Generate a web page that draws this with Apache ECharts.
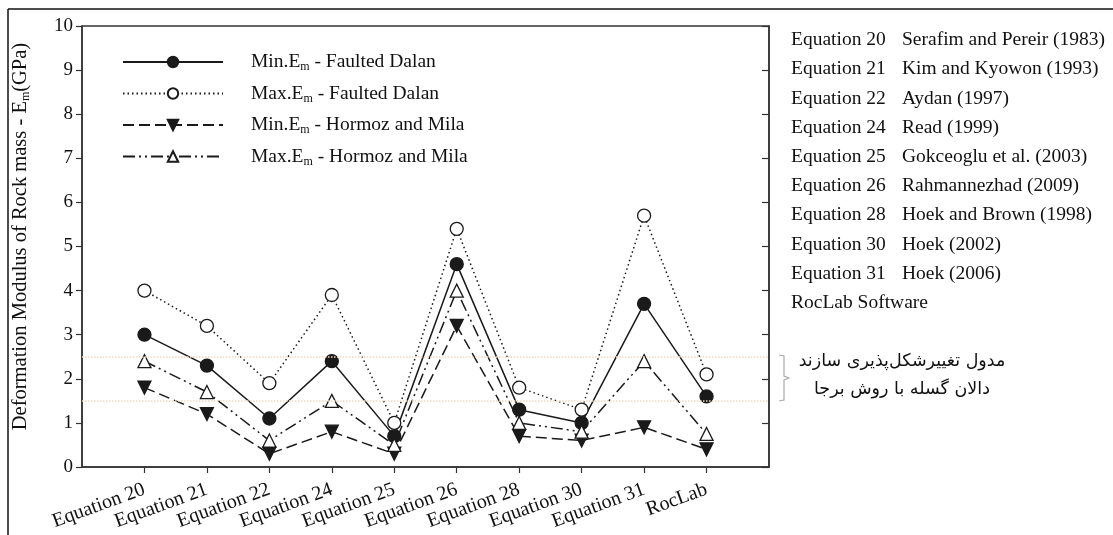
<!DOCTYPE html>
<html><head><meta charset="utf-8">
<script src="https://cdn.jsdelivr.net/npm/echarts@6/dist/echarts.min.js"></script>
<style>html,body{margin:0;padding:0;background:#fff}#c{width:1113px;height:535px}</style>
</head><body><div id="c"></div>
<script>
const categories = ['Equation 20','Equation 21','Equation 22','Equation 24','Equation 25','Equation 26','Equation 28','Equation 30','Equation 31','RocLab'];
const minFaultedDalan = [3.0, 2.3, 1.1, 2.4, 0.7, 4.6, 1.3, 1.0, 3.7, 1.6];
const maxFaultedDalan = [4.0, 3.2, 1.9, 3.9, 1.0, 5.4, 1.8, 1.3, 5.7, 2.1];
const minHormozMila = [1.8, 1.2, 0.3, 0.8, 0.3, 3.2, 0.7, 0.6, 0.9, 0.4];
const maxHormozMila = [2.4, 1.7, 0.6, 1.5, 0.5, 4.0, 1.0, 0.8, 2.4, 0.75];
const seriesNames = ['Min.E_m - Faulted Dalan','Max.E_m - Faulted Dalan','Min.E_m - Hormoz and Mila','Max.E_m - Hormoz and Mila'];
const refEquations = ['Equation 20','Equation 21','Equation 22','Equation 24','Equation 25','Equation 26','Equation 28','Equation 30','Equation 31','RocLab Software'];
const refSources = ['Serafim and Pereir (1983)','Kim and Kyowon (1993)','Aydan (1997)','Read (1999)','Gokceoglu et al. (2003)','Rahmannezhad (2009)','Hoek and Brown (1998)','Hoek (2002)','Hoek (2006)',''];
const bandValues = [1.5, 2.5];
const noteLines = ['مدول تغییرشکل‌پذیری سازند', 'دالان گسله با روش برجا'];
const yTicks = [0,1,2,3,4,5,6,7,8,9,10];

const SERIF = '"Liberation Serif", "Times New Roman", serif';
const padCats = [''].concat(categories, ['']);
const pad = a => [null].concat(a, [null]);

const chart = echarts.init(document.getElementById('c'), null, {renderer: 'canvas'});
const lineCol = '#1a1a1a';
const mk = (name, data, lineType, symbol, filled, rot, extra) => Object.assign({
  name, type: 'line', data: pad(data), connectNulls: false,
  symbol, symbolSize: 13, symbolRotate: rot || 0,
  lineStyle: {color: lineCol, width: 1.5, type: lineType},
  itemStyle: {color: filled ? lineCol : '#fff', borderColor: lineCol, borderWidth: 1.3},
  emphasis: {disabled: true}, z: 3
}, extra || {});

const graphics = [
  {type: 'line', shape: {x1: 8, y1: 9, x2: 1113, y2: 9}, style: {stroke: '#111', lineWidth: 1.5}},
  {type: 'line', shape: {x1: 8, y1: 9, x2: 8, y2: 535}, style: {stroke: '#111', lineWidth: 1.5}},
  {type: 'polyline', shape: {points: [[779,355],[784,356],[784,376],[789,378],[784,380],[784,400],[779,401]]}, style: {stroke: '#aaa', lineWidth: 1.2, fill: null}}
];
refEquations.forEach((e, i) => {
  graphics.push({type: 'text', x: 791, y: 40 + i * 29.2, style: {text: e, font: '19.5px ' + SERIF, fill: '#111', verticalAlign: 'middle'}});
  if (refSources[i]) graphics.push({type: 'text', x: 902, y: 40 + i * 29.2, style: {text: refSources[i], font: '19.5px ' + SERIF, fill: '#111', verticalAlign: 'middle'}});
});
noteLines.forEach((t, i) => {
  graphics.push({type: 'text', x: 902, y: 361 + i * 28, style: {text: t, font: '17.5px "DejaVu Sans"', fill: '#111', align: 'center', verticalAlign: 'middle'}});
});

chart.setOption({
  animation: false,
  backgroundColor: '#fff',
  grid: {left: 82, right: 344, top: 26, bottom: 68, show: true, borderColor: '#333', borderWidth: 1.5, backgroundColor: 'transparent'},
  legend: {
    orient: 'vertical', left: 122, top: 52, padding: 0, itemWidth: 100, itemHeight: 13, itemGap: 10.5,
    data: seriesNames,
    formatter: n => n.replace('E_m', 'E{sub|m}'),
    textStyle: {fontFamily: SERIF, fontSize: 19.5, color: '#111', padding: [0, 0, 0, 23], rich: {sub: {fontSize: 12, fontFamily: SERIF, color: '#111', padding: [10, 0, 0, 0]}}},
    selectedMode: false
  },
  xAxis: {
    type: 'category', data: padCats, boundaryGap: false,
    axisLine: {show: true, lineStyle: {color: '#333', width: 1.5}},
    axisTick: {show: true, length: 6, inside: false, lineStyle: {color: '#333', width: 1.2}, interval: (i) => i > 0 && i < padCats.length - 1, alignWithLabel: true},
    axisLabel: {interval: 0, rotate: 20, margin: 22, fontFamily: SERIF, fontSize: 20, color: '#111'},
    splitLine: {show: false}
  },
  yAxis: [{
    type: 'value', min: 0, max: 10, interval: 1,
    axisLine: {show: true, lineStyle: {color: '#333', width: 1.5}},
    axisTick: {show: true, length: 6, lineStyle: {color: '#333', width: 1.2}},
    axisLabel: {fontFamily: SERIF, fontSize: 19, color: '#111', margin: 9, formatter: v => yTicks.indexOf(v) >= 0 ? String(v) : ''},
    splitLine: {show: false},
    name: 'Deformation Modulus of Rock mass - E{sub|m}(GPa)', nameLocation: 'middle', nameGap: 50, nameRotate: 90,
    nameTextStyle: {fontFamily: SERIF, fontSize: 20.5, color: '#111', padding: [0, 0, 0, 20], rich: {sub: {fontSize: 12, fontFamily: SERIF, color: '#111', padding: [10, 0, 0, 0]}}}
  }, {
    type: 'value', min: 0, max: 10, interval: 1, position: 'right',
    axisLine: {show: true, lineStyle: {color: '#333', width: 1.5}},
    axisTick: {show: true, inside: true, length: 7, lineStyle: {color: '#333', width: 1.2}},
    axisLabel: {show: false}, splitLine: {show: false}
  }],
  series: [
    mk(seriesNames[0], minFaultedDalan, 'solid', 'circle', true, 0, {
      markLine: {silent: true, symbol: 'none', label: {show: false},
        lineStyle: {color: '#f1d9c2', width: 1.5, type: 'dotted'},
        data: bandValues.map(v => ({yAxis: v}))}
    }),
    mk(seriesNames[1], maxFaultedDalan, [1.5, 3], 'circle', false, 0),
    mk(seriesNames[2], minHormozMila, [11, 5], 'triangle', true, 180),
    mk(seriesNames[3], maxHormozMila, [12, 4, 2, 4, 2, 4], 'triangle', false, 0)
  ],
  graphic: graphics
});
</script>
</body></html>
